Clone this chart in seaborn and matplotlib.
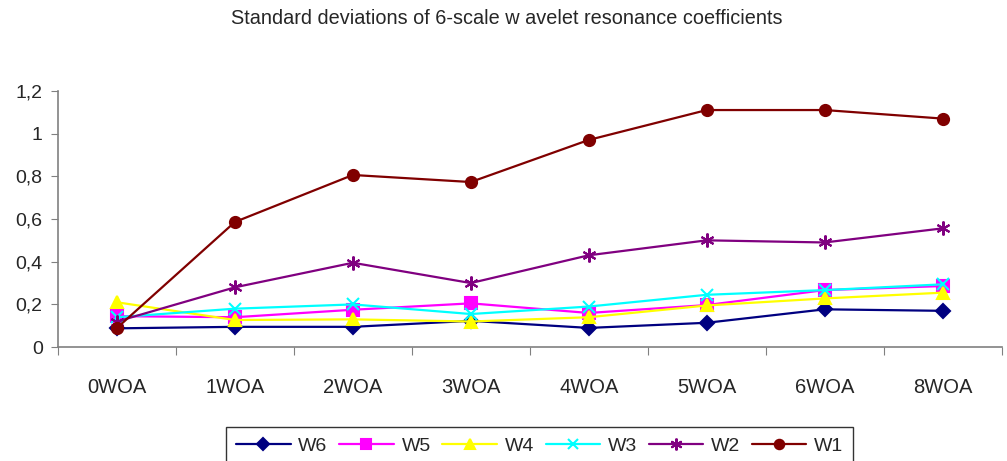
import pandas as pd
import matplotlib
matplotlib.use('Agg')
import matplotlib.pyplot as plt
import seaborn as sns

# values
weeks = ['0WOA', '1WOA', '2WOA', '3WOA', '4WOA', '5WOA', '6WOA', '8WOA']
w6 = [0.088, 0.095, 0.095, 0.123, 0.090, 0.114, 0.177, 0.170]
w5 = [0.145, 0.140, 0.175, 0.205, 0.160, 0.197, 0.267, 0.286]
w4 = [0.210, 0.127, 0.130, 0.120, 0.140, 0.195, 0.228, 0.255]
w3 = [0.140, 0.180, 0.200, 0.155, 0.190, 0.245, 0.267, 0.294]
w2 = [0.120, 0.280, 0.395, 0.300, 0.430, 0.500, 0.490, 0.556]
w1 = [0.090, 0.586, 0.806, 0.773, 0.970, 1.110, 1.110, 1.070]
series_names = ['W6', 'W5', 'W4', 'W3', 'W2', 'W1']

rows = []
for name, vals in zip(series_names, [w6, w5, w4, w3, w2, w1]):
    for i, v in enumerate(vals):
        rows.append({'pos': i, 'week': weeks[i], 'series': name, 'value': v})
df = pd.DataFrame(rows)

sns.set_style('white')
plt.rcParams['font.family'] = ['Liberation Sans', 'DejaVu Sans']

colors = {'W6': '#000080', 'W5': '#ff00ff', 'W4': '#ffff00',
          'W3': '#00ffff', 'W2': '#800080', 'W1': '#800000'}
markers = {'W6': 'D', 'W5': 's', 'W4': '^', 'W3': 'x', 'W2': (6, 2, 0), 'W1': 'o'}
sizes = {'W6': 7, 'W5': 8, 'W4': 9, 'W3': 9, 'W2': 10, 'W1': 8}

fig = plt.figure(figsize=(10.07, 4.61), dpi=100)
ax = fig.add_axes([0.0576, 0.247, 0.937, 0.556])

for name in series_names:
    sub = df[df['series'] == name]
    sns.lineplot(data=sub, x='pos', y='value', ax=ax, color=colors[name],
                 marker=markers[name], markersize=sizes[name],
                 markeredgecolor=colors[name], markeredgewidth=1.5,
                 linewidth=1.6, label=name)

ax.set_xlim(-0.5, len(weeks) - 0.5)
ax.set_ylim(0, 1.2)
ax.set_yticks([0, 0.2, 0.4, 0.6, 0.8, 1.0, 1.2])
ax.set_yticklabels(['0', '0,2', '0,4', '0,6', '0,8', '1', '1,2'], fontsize=14)
ax.set_xticks([i - 0.5 for i in range(len(weeks) + 1)])
ax.set_xticklabels([])
ax.set_xticks(range(len(weeks)), minor=True)
ax.set_xticklabels(weeks, minor=True, fontsize=14.5)
ax.tick_params(axis='x', which='major', direction='out', length=6, color='#808080', bottom=True)
ax.tick_params(axis='x', which='minor', length=0, pad=22)
ax.tick_params(axis='y', direction='out', length=5, color='#808080', left=True, pad=6)
ax.set_xlabel('')
ax.set_ylabel('')
for s in ['top', 'right']:
    ax.spines[s].set_visible(False)
for s in ['left', 'bottom']:
    ax.spines[s].set_color('#808080')
    ax.spines[s].set_linewidth(1.2)

fig.suptitle('Standard deviations of 6-scale w avelet resonance coefficients',
             x=0.503, y=1 - 18 / 461, va='center', fontsize=14.3)

handles, labels = ax.get_legend_handles_labels()
ax.get_legend().remove()
leg = fig.legend(handles, labels, loc='upper center', bbox_to_anchor=(0.536, 0.094),
                 ncol=6, fontsize=14, frameon=True, fancybox=False,
                 edgecolor='black', handlelength=2.8, columnspacing=0.6,
                 handletextpad=0.4, borderpad=0.5, markerscale=0.85)
leg.get_frame().set_linewidth(1.0)

fig.savefig('out.png', dpi=100)
